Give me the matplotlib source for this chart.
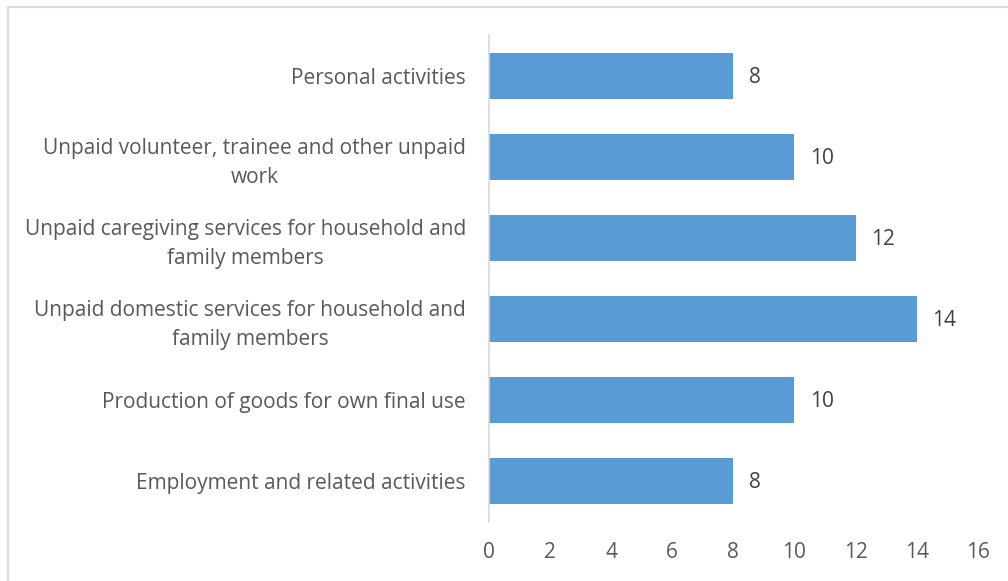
import matplotlib.pyplot as plt
from matplotlib.patches import Rectangle

categories = [
    'Employment and related activities',
    'Production of goods for own final use',
    'Unpaid domestic services for household and\nfamily members',
    'Unpaid caregiving services for household and\nfamily members',
    'Unpaid volunteer, trainee and other unpaid\nwork',
    'Personal activities',
]
values = [8, 10, 14, 12, 10, 8]
xticks = [0, 2, 4, 6, 8, 10, 12, 14, 16]

plt.rcParams['font.family'] = ['Open Sans', 'DejaVu Sans']

fig = plt.figure(figsize=(10.08, 5.81), dpi=100)
ax = fig.add_axes([0.485, 0.1024, 0.485, 0.8366])

# chart frame, only the top and left edges fall inside the image
W, H = 1008, 581
fig.patches.append(Rectangle((7.5 / W, -0.1), 1.2, 1.1 - 6.5 / H,
                             transform=fig.transFigure, fill=False,
                             edgecolor='#d9d9d9', linewidth=1.5))

pos = range(len(categories))
ax.barh(pos, values, height=0.57, color='#5b9bd5')

for p, v in zip(pos, values):
    ax.text(v + 0.5, p - 0.02, str(v), va='center', ha='left', fontsize=15, color='#404040')

ax.set_xlim(0, 16)
ax.set_ylim(-0.5, len(categories) - 0.5)
ax.set_xticks(xticks)
ax.set_yticks(list(pos))
ax.set_yticklabels(categories, multialignment='center', linespacing=1.45)

for s in ['top', 'right', 'bottom']:
    ax.spines[s].set_visible(False)
ax.spines['left'].set_color('#d9d9d9')
ax.spines['left'].set_linewidth(1.2)

ax.tick_params(axis='y', length=0, pad=16.5, labelsize=15, labelcolor='#595959')
ax.tick_params(axis='x', length=0, pad=14.5, labelsize=15, labelcolor='#595959')

plt.savefig('out.png', dpi=100)
